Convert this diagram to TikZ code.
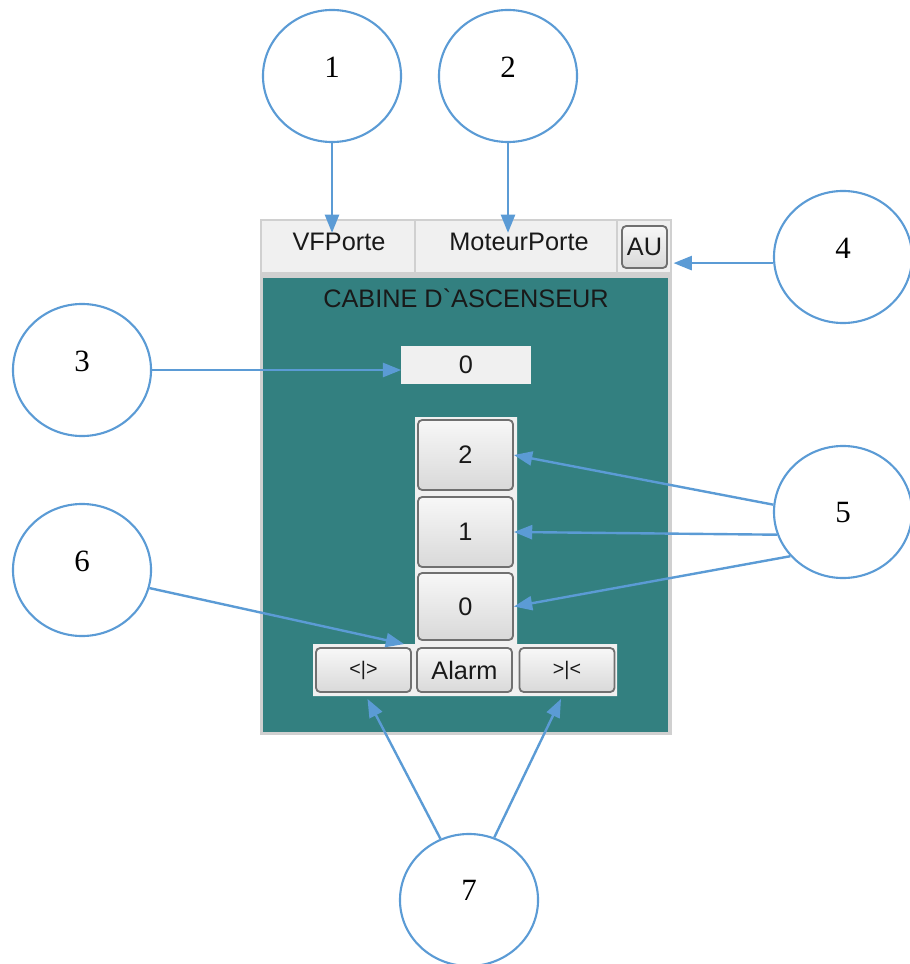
\documentclass[tikz,border=0pt]{standalone}
\usepackage{fontspec}
\setmainfont{Liberation Serif}
\setsansfont{Liberation Sans}
\usetikzlibrary{positioning,arrows.meta,shapes.geometric}

\definecolor{bleu}{RGB}{91,155,213}
\definecolor{sarcelle}{RGB}{51,128,128}
\definecolor{fond}{RGB}{240,240,240}
\definecolor{cadre}{RGB}{208,208,208}
\definecolor{bord}{RGB}{112,112,112}
\definecolor{encre}{RGB}{25,25,25}

\tikzset{
	bulle/.style={ellipse, draw=bleu, line width=1.5pt, minimum width=3.45cm, minimum height=3.3cm,
		inner sep=0pt, text depth=13pt, font=\rmfamily\fontsize{22}{26}\selectfont},
	texte/.style={inner sep=0pt, text=encre, font=\sffamily\fontsize{18}{20}\selectfont},
	bouton/.style={texte, draw=bord, line width=1.3pt, rounded corners=3pt,
		top color=black!3, bottom color=black!15, minimum width=2.375cm, minimum height=1.75cm},
	fleche/.style={-{Triangle[length=13pt,width=10pt]}, draw=bleu, line width=1.7pt}
}

\begin{document}
\begin{tikzpicture}[x=0.025cm, y=-0.025cm]
		\useasboundingbox (0,0) rectangle (909,964);
		% Panel
		\fill[cadre] (260,219) rectangle (672,735);
		\fill[fond] (262,221) rectangle (670,272);
		\draw[cadre, line width=1pt] (415,221) -- (415,272) (617,221) -- (617,272);
		\fill[sarcelle] (263,278) rectangle (668,732);
		\fill[fond] (415,417) rectangle (517,645) (313,644) rectangle (617,696);
		% Nodes
		\node[texte] (vf) 		at (339,242) {VFPorte};
		\node[texte] (moteur) 	at (519,242) {MoteurPorte};
		\node[bouton, minimum width=1.125cm, minimum height=1.05cm] (au) at (644.5,247) {AU};
		\node[texte] (titre) 	at (466,298) {CABINE D\textasciigrave ASCENSEUR};
		\node[texte, fill=fond, minimum width=3.225cm, minimum height=0.925cm] (affiche) at (466,365) {0};
		\node[bouton] (b2) 		at (465.5,455) {2};
		\node[bouton] (b1) 		at (465.5,532) {1};
		\node[bouton, minimum height=1.675cm] (b0) at (465.5,606.5) {0};
		\node[bouton, minimum height=1.1cm] (ouvrir) at (363.5,670) {\fontsize{14}{16}\selectfont <|>};
		\node[bouton, minimum height=1.1cm] (alarme) at (464.5,670) {Alarm};
		\node[bouton, minimum height=1.1cm] (fermer) at (567,670) {\fontsize{14}{16}\selectfont >|<};
		% Callouts
		\node[bulle] (n1) at (332,76) {1};
		\node[bulle] (n2) at (508,76) {2};
		\node[bulle] (n3) at (82,370) {3};
		\node[bulle] (n4) at (843,257) {4};
		\node[bulle, text depth=0pt] (n5) at (843,512) {5};
		\node[bulle] (n6) at (82,570) {6};
		\node[bulle] (n7) at (469,900) {7};
		%Arrows
		\path
		(n1.south) edge[fleche] (n1.south |- vf.north)
		(n2.south) edge[fleche] (n2.south |- moteur.north)
		(n3.east)  edge[fleche] (n3.east -| affiche.west)
		(n4.185)   edge[fleche] ([xshift=4]n4.185 -| au.east)
		(n5.174)   edge[fleche] (b2.east)
		(n5.199)   edge[fleche] (b1.east)
		(n5.220)   edge[fleche] (b0.east)
		(n6.345)   edge[fleche] ([shift={(-12,-3)}]alarme.north west)
		(n7.115)   edge[fleche] ([shift={(4,6)}]ouvrir.south)
		(n7.68)    edge[fleche] ([shift={(-6,6)}]fermer.south)
		;
\end{tikzpicture}
\end{document}
